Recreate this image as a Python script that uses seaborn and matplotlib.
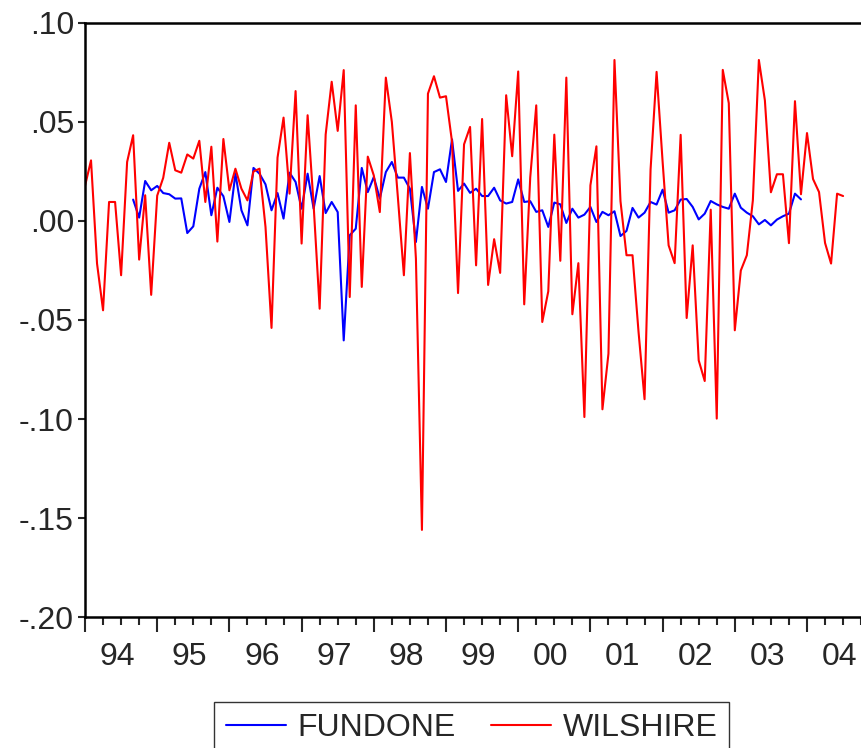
import numpy as np
import pandas as pd
import matplotlib
matplotlib.use("Agg")
import matplotlib.pyplot as plt
import seaborn as sns

# monthly returns, 1994M01 onwards
wilshire = [
    0.0177, 0.0306, -0.0215, -0.0451, 0.0096, 0.0096, -0.0274, 0.0298, 0.0433, -0.0195,
    0.0130, -0.0373, 0.0128, 0.0218, 0.0395, 0.0256, 0.0244, 0.0336, 0.0315, 0.0405,
    0.0096, 0.0375, -0.0104, 0.0414, 0.0155, 0.0264, 0.0163, 0.0104, 0.0250, 0.0264,
    -0.0030, -0.0540, 0.0320, 0.0522, 0.0138, 0.0656, -0.0114, 0.0534, 0.0080, -0.0443,
    0.0437, 0.0703, 0.0455, 0.0762, -0.0384, 0.0584, -0.0333, 0.0325, 0.0230, 0.0045,
    0.0724, 0.0500, 0.0120, -0.0274, 0.0343, -0.0190, -0.1560, 0.0643, 0.0731, 0.0623,
    0.0630, 0.0400, -0.0364, 0.0387, 0.0475, -0.0224, 0.0515, -0.0323, -0.0092, -0.0262,
    0.0635, 0.0327, 0.0755, -0.0421, 0.0220, 0.0584, -0.0510, -0.0355, 0.0436, -0.0201,
    0.0724, -0.0471, -0.0213, -0.0990, 0.0180, 0.0377, -0.0951, -0.0670, 0.0813, 0.0100,
    -0.0173, -0.0173, -0.0560, -0.0900, 0.0260, 0.0753, 0.0300, -0.0123, -0.0213, 0.0435,
    -0.0490, -0.0123, -0.0704, -0.0808, 0.0057, -0.0998, 0.0763, 0.0595, -0.0552, -0.0250,
    -0.0173, 0.0104, 0.0813, 0.0609, 0.0145, 0.0236, 0.0236, -0.0112, 0.0605, 0.0135,
    0.0444, 0.0212, 0.0146, -0.0111, -0.0215, 0.0138, 0.0126,
]

# fund one starts 1994M09 and ends 2003M12
fundone = [np.nan] * 8 + [
    0.0108, 0.0017, 0.0202, 0.0155, 0.0177, 0.0141, 0.0135, 0.0113, 0.0114, -0.0061,
    -0.0027, 0.0163, 0.0247, 0.0029, 0.0168, 0.0125, -0.0005, 0.0239, 0.0054, -0.0022,
    0.0268, 0.0239, 0.0185, 0.0054, 0.0141, 0.0012, 0.0244, 0.0197, 0.0062, 0.0239,
    0.0062, 0.0227, 0.0040, 0.0096, 0.0045, -0.0603, -0.0072, -0.0039, 0.0268, 0.0146,
    0.0222, 0.0113, 0.0247, 0.0298, 0.0219, 0.0219, 0.0163, -0.0106, 0.0172, 0.0062,
    0.0247, 0.0261, 0.0197, 0.0412, 0.0152, 0.0189, 0.0142, 0.0163, 0.0126, 0.0126,
    0.0168, 0.0104, 0.0088, 0.0096, 0.0210, 0.0096, 0.0100, 0.0046, 0.0054, -0.0030,
    0.0093, 0.0084, -0.0010, 0.0062, 0.0017, 0.0032, 0.0071, -0.0005, 0.0046, 0.0029,
    0.0049, -0.0076, -0.0050, 0.0066, 0.0017, 0.0042, 0.0096, 0.0083, 0.0158, 0.0042,
    0.0054, 0.0108, 0.0111, 0.0071, 0.0008, 0.0037, 0.0101, 0.0084, 0.0071, 0.0062,
    0.0138, 0.0067, 0.0042, 0.0024, -0.0017, 0.0005, -0.0022, 0.0007, 0.0024, 0.0037,
    0.0138, 0.0109,
] + [np.nan] * 7

years = list(range(1994, 2005))
year_labels = ["94", "95", "96", "97", "98", "99", "00", "01", "02", "03", "04"]
y_ticks = [-0.20, -0.15, -0.10, -0.05, 0.00, 0.05, 0.10]
y_labels = ["-.20", "-.15", "-.10", "-.05", ".00", ".05", ".10"]

t = 1994 + np.arange(len(wilshire)) / 12.0
df = pd.DataFrame({"t": t, "FUNDONE": fundone, "WILSHIRE": wilshire})
long = df.melt(id_vars="t", var_name="series", value_name="ret").dropna()

sns.set_style("ticks")
plt.rcParams["font.family"] = ["Liberation Sans", "DejaVu Sans"]

fig = plt.figure(figsize=(8.62, 7.48), dpi=100)
# the axes run off the right edge of the picture, as in the original
ax = fig.add_axes([85 / 862, 0.1751, (862 - 85) / 862, 0.7942])

sns.lineplot(data=long, x="t", y="ret", hue="series",
             palette={"FUNDONE": "#0000ff", "WILSHIRE": "#ff0000"},
             linewidth=1.5, ax=ax, legend=False)

ax.set_xlim(1994, 1994 + (862 - 85) / 72.2)
ax.set_ylim(-0.20, 0.10)
ax.set_xlabel("")
ax.set_ylabel("")

ax.set_yticks(y_ticks)
ax.set_yticklabels(y_labels)
ax.set_xticks(years)
ax.set_xticklabels([])
ax.set_xticks(np.arange(1994, 2005, 0.25), minor=True)
ax.tick_params(axis="x", which="major", length=11, width=1.5, direction="out")
ax.tick_params(axis="x", which="minor", length=6, width=1.5, direction="out")
ax.tick_params(axis="y", length=5, width=1.5, direction="out", labelsize=23, pad=3)
for y, lab in zip(years, year_labels):
    ax.text(y + 0.45, -0.2125, lab, ha="center", va="top", fontsize=23)

for side in ["left", "bottom", "top"]:
    ax.spines[side].set_linewidth(1.8)
    ax.spines[side].set_color("black")
ax.spines["right"].set_visible(False)

handles = [plt.Line2D([], [], color="#0000ff", lw=1.5),
           plt.Line2D([], [], color="#ff0000", lw=1.5)]
leg = fig.legend(handles, ["FUNDONE", "WILSHIRE"], loc="upper center",
                 bbox_to_anchor=(0.547, 0.0615), ncol=2, fontsize=23,
                 frameon=True, fancybox=False, handlelength=1.9,
                 handletextpad=0.35, columnspacing=1.1, borderpad=0.35,
                 borderaxespad=0)
leg.get_frame().set_edgecolor("black")
leg.get_frame().set_linewidth(1.0)

fig.savefig("out.png", dpi=100)
